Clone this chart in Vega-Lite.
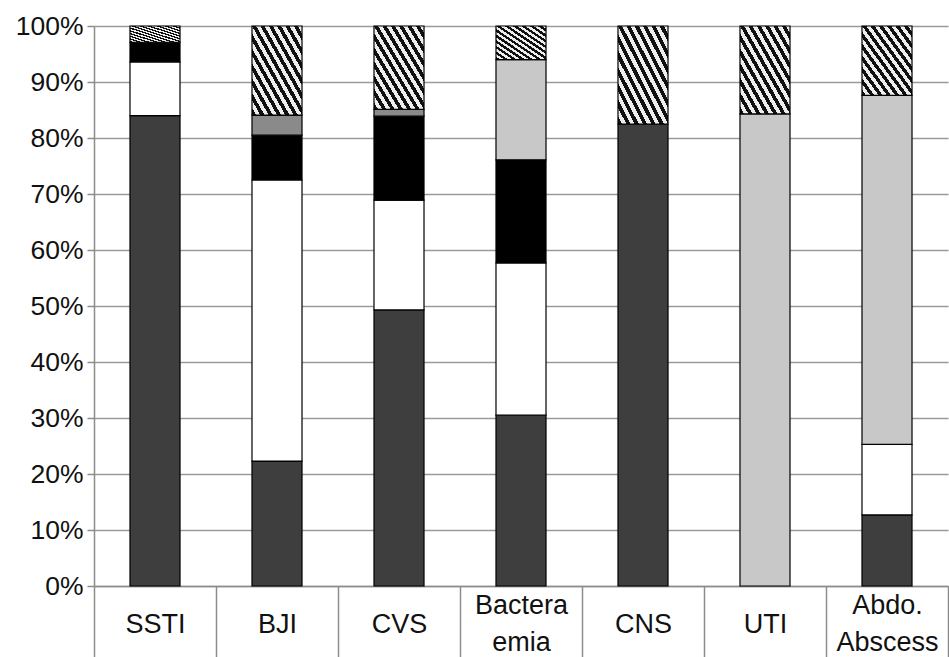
{
  "$schema": "https://vega.github.io/schema/vega-lite/v6.json",
  "width": 854,
  "height": 560,
  "autosize": {"type": "none"},
  "padding": {"left": 94, "top": 26, "right": 1, "bottom": 71},
  "background": "white",
  "config": {
    "view": {"stroke": null},
    "axis": {"labelFont": "Liberation Sans", "labelColor": "#111111", "domainColor": "#8c8c8c", "domainWidth": 1.5, "tickColor": "#8c8c8c", "tickWidth": 1.5}
  },
  "data": {
    "values": [
      {"cat": "SSTI", "seg": "a", "ord": 1, "v": 84.0},
      {"cat": "SSTI", "seg": "b", "ord": 2, "v": 9.6},
      {"cat": "SSTI", "seg": "c", "ord": 3, "v": 3.5},
      {"cat": "SSTI", "seg": "f", "ord": 6, "v": 2.9},
      {"cat": "BJI", "seg": "a", "ord": 1, "v": 22.3},
      {"cat": "BJI", "seg": "b", "ord": 2, "v": 50.2},
      {"cat": "BJI", "seg": "c", "ord": 3, "v": 8.0},
      {"cat": "BJI", "seg": "d", "ord": 4, "v": 3.6},
      {"cat": "BJI", "seg": "f", "ord": 6, "v": 15.9},
      {"cat": "CVS", "seg": "a", "ord": 1, "v": 49.3},
      {"cat": "CVS", "seg": "b", "ord": 2, "v": 19.6},
      {"cat": "CVS", "seg": "c", "ord": 3, "v": 15.0},
      {"cat": "CVS", "seg": "d", "ord": 4, "v": 1.2},
      {"cat": "CVS", "seg": "f", "ord": 6, "v": 14.9},
      {"cat": "Bacteraemia", "seg": "a", "ord": 1, "v": 30.5},
      {"cat": "Bacteraemia", "seg": "b", "ord": 2, "v": 27.2},
      {"cat": "Bacteraemia", "seg": "c", "ord": 3, "v": 18.4},
      {"cat": "Bacteraemia", "seg": "e", "ord": 5, "v": 17.9},
      {"cat": "Bacteraemia", "seg": "f", "ord": 6, "v": 6.0},
      {"cat": "CNS", "seg": "a", "ord": 1, "v": 82.5},
      {"cat": "CNS", "seg": "f", "ord": 6, "v": 17.5},
      {"cat": "UTI", "seg": "e", "ord": 5, "v": 84.3},
      {"cat": "UTI", "seg": "f", "ord": 6, "v": 15.7},
      {"cat": "Abdo. Abscess", "seg": "a", "ord": 1, "v": 12.7},
      {"cat": "Abdo. Abscess", "seg": "b", "ord": 2, "v": 12.6},
      {"cat": "Abdo. Abscess", "seg": "e", "ord": 5, "v": 62.3},
      {"cat": "Abdo. Abscess", "seg": "f", "ord": 6, "v": 12.4}
    ]
  },
  "mark": {"type": "bar", "width": {"band": 0.41}, "stroke": "#000000", "strokeWidth": 1.2},
  "encoding": {
    "x": {
      "field": "cat",
      "type": "nominal",
      "sort": ["SSTI", "BJI", "CVS", "Bacteraemia", "CNS", "UTI", "Abdo. Abscess"],
      "scale": {"paddingInner": 0, "paddingOuter": 0},
      "title": null,
      "axis": {
        "labelExpr": "datum.value == 'Bacteraemia' ? ['Bactera', 'emia'] : datum.value == 'Abdo. Abscess' ? ['Abdo.', 'Abscess'] : datum.value",
        "labelAngle": 0,
        "labelFontSize": 27,
        "labelLineHeight": 37,
        "labelBaseline": "middle",
        "labelOverlap": false,
        "labelLimit": 300,
        "tickBand": "extent",
        "tickSize": 71,
        "labelPadding": {"condition": {"test": "datum.value == 'Bacteraemia' || datum.value == 'Abdo. Abscess'", "value": -51.5}, "value": -33},
        "grid": false
      }
    },
    "y": {
      "field": "v",
      "type": "quantitative",
      "stack": "zero",
      "scale": {"domain": [0, 100], "nice": false},
      "title": null,
      "axis": {
        "values": [0, 10, 20, 30, 40, 50, 60, 70, 80, 90, 100],
        "labelExpr": "datum.value + '%'",
        "labelFontSize": 26.5,
        "labelPadding": 4,
        "tickSize": 7,
        "grid": true,
        "gridColor": "#9a9a9a",
        "gridWidth": 1.5
      }
    },
    "detail": {"field": "seg", "type": "nominal"},
    "order": {"field": "ord", "type": "quantitative"},
    "fill": {
      "condition": [
        {"test": "datum.seg === 'b'", "value": "#ffffff"},
        {"test": "datum.seg === 'c'", "value": "#000000"},
        {"test": "datum.seg === 'd'", "value": "#8a8a8a"},
        {"test": "datum.seg === 'e'", "value": "#c8c8c8"},
        {"test": "datum.seg === 'f'", "value": {
          "gradient": "linear", "x1": 0, "y1": 1, "x2": 1, "y2": 0,
          "stops": [
            {"offset": 0, "color": "#111"}, {"offset": 0.0417, "color": "#111"}, {"offset": 0.0417, "color": "#eee"}, {"offset": 0.0833, "color": "#eee"},
            {"offset": 0.0833, "color": "#111"}, {"offset": 0.125, "color": "#111"}, {"offset": 0.125, "color": "#eee"}, {"offset": 0.1667, "color": "#eee"},
            {"offset": 0.1667, "color": "#111"}, {"offset": 0.2083, "color": "#111"}, {"offset": 0.2083, "color": "#eee"}, {"offset": 0.25, "color": "#eee"},
            {"offset": 0.25, "color": "#111"}, {"offset": 0.2917, "color": "#111"}, {"offset": 0.2917, "color": "#eee"}, {"offset": 0.3333, "color": "#eee"},
            {"offset": 0.3333, "color": "#111"}, {"offset": 0.375, "color": "#111"}, {"offset": 0.375, "color": "#eee"}, {"offset": 0.4167, "color": "#eee"},
            {"offset": 0.4167, "color": "#111"}, {"offset": 0.4583, "color": "#111"}, {"offset": 0.4583, "color": "#eee"}, {"offset": 0.5, "color": "#eee"},
            {"offset": 0.5, "color": "#111"}, {"offset": 0.5417, "color": "#111"}, {"offset": 0.5417, "color": "#eee"}, {"offset": 0.5833, "color": "#eee"},
            {"offset": 0.5833, "color": "#111"}, {"offset": 0.625, "color": "#111"}, {"offset": 0.625, "color": "#eee"}, {"offset": 0.6667, "color": "#eee"},
            {"offset": 0.6667, "color": "#111"}, {"offset": 0.7083, "color": "#111"}, {"offset": 0.7083, "color": "#eee"}, {"offset": 0.75, "color": "#eee"},
            {"offset": 0.75, "color": "#111"}, {"offset": 0.7917, "color": "#111"}, {"offset": 0.7917, "color": "#eee"}, {"offset": 0.8333, "color": "#eee"},
            {"offset": 0.8333, "color": "#111"}, {"offset": 0.875, "color": "#111"}, {"offset": 0.875, "color": "#eee"}, {"offset": 0.9167, "color": "#eee"},
            {"offset": 0.9167, "color": "#111"}, {"offset": 0.9583, "color": "#111"}, {"offset": 0.9583, "color": "#eee"}, {"offset": 1, "color": "#eee"}
          ]
        }}
      ],
      "value": "#3e3e3e"
    }
  }
}
